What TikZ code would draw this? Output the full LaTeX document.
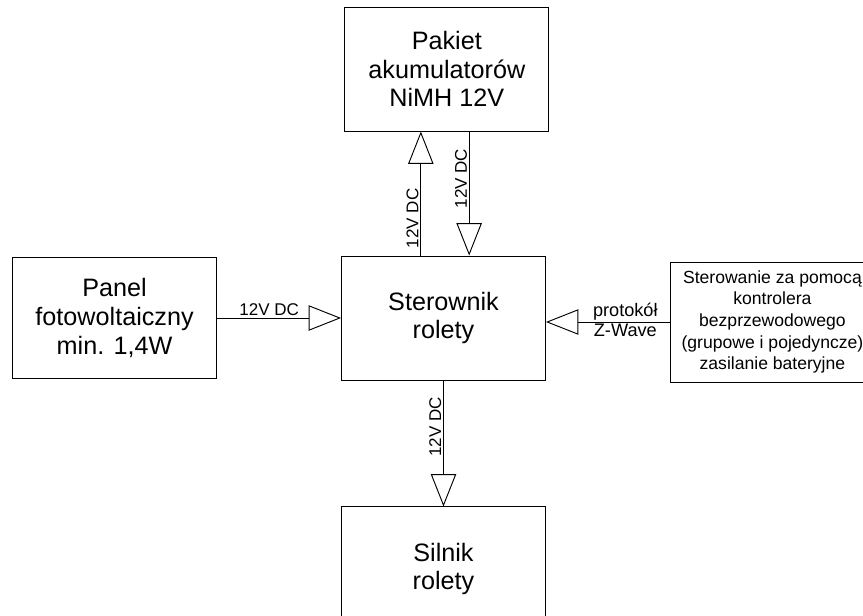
\documentclass[tikz,border=0pt]{standalone}
\usepackage{fontspec}
\setmainfont{Liberation Sans}
\usetikzlibrary{positioning,arrows.meta}

\begin{document}
\begin{tikzpicture}[
      node distance=3.72cm,
      block/.style={rectangle, draw, line width=0.8pt, minimum width=6.12cm,
                    minimum height=3.72cm, align=center, inner sep=2mm,
                    font=\fontsize{21.5}{24.5}\selectfont},
      note/.style={block, minimum height=3.6cm, font=\fontsize{15}{18.5}\selectfont},
      flow/.style={-{Triangle[open, length=0.97cm, width=0.76cm]}, line width=0.8pt},
      lbl/.style={font=\fontsize{14.5}{16}\selectfont, inner sep=1.5pt},
    ]
    % page frame, the right and lower boxes run off the edge
    \useasboundingbox (-13.305,-8.94) rectangle (12.585,9.54);
    \clip (-13.305,-8.94) rectangle (12.585,9.54);

    \node[block] (ster) at (0,0) {Sterownik\\rolety};
    \node[block, above=of ster, xshift=1mm] (akku) {Pakiet\\akumulatorów\\NiMH 12V};
    \node[block, left=of ster, minimum height=3.63cm] (panel) {Panel\\fotowoltaiczny\\min. 1,4W};
    \node[note, right=of ster, yshift=-1.2mm] (ctrl) {Sterowanie za pomocą\\kontrolera\\bezprzewodowego\\(grupowe i pojedyncze)\\zasilanie bateryjne};
    \node[block, below=of ster, yshift=-0.6mm] (motor) {Silnik\\rolety};

    \coordinate (up0) at ([xshift=-0.68cm]ster.north);
    \coordinate (dn0) at ([xshift=0.77cm]ster.north);

    \draw[flow] (up0) -- node[lbl, pos=0.3, rotate=90, anchor=south]{12V DC} (up0 |- akku.south);
    \draw[flow] (dn0 |- akku.south) -- node[lbl, pos=0.38, rotate=90, anchor=south]{12V DC} (dn0);
    \draw[flow] (panel.east) -- node[lbl, pos=0.42, above]{12V DC} (panel.east -| ster.west);
    \draw[flow] (ctrl.west) -- node[lbl, pos=0.36, above, font=\fontsize{15.5}{16}\selectfont]{protokół}
                               node[lbl, pos=0.36, below, font=\fontsize{15.5}{16}\selectfont]{Z-Wave} (ctrl.west -| ster.east);
    \draw[flow] (ster.south) -- node[lbl, pos=0.37, rotate=90, anchor=south]{12V DC} (motor.north);
  \end{tikzpicture}
\end{document}
